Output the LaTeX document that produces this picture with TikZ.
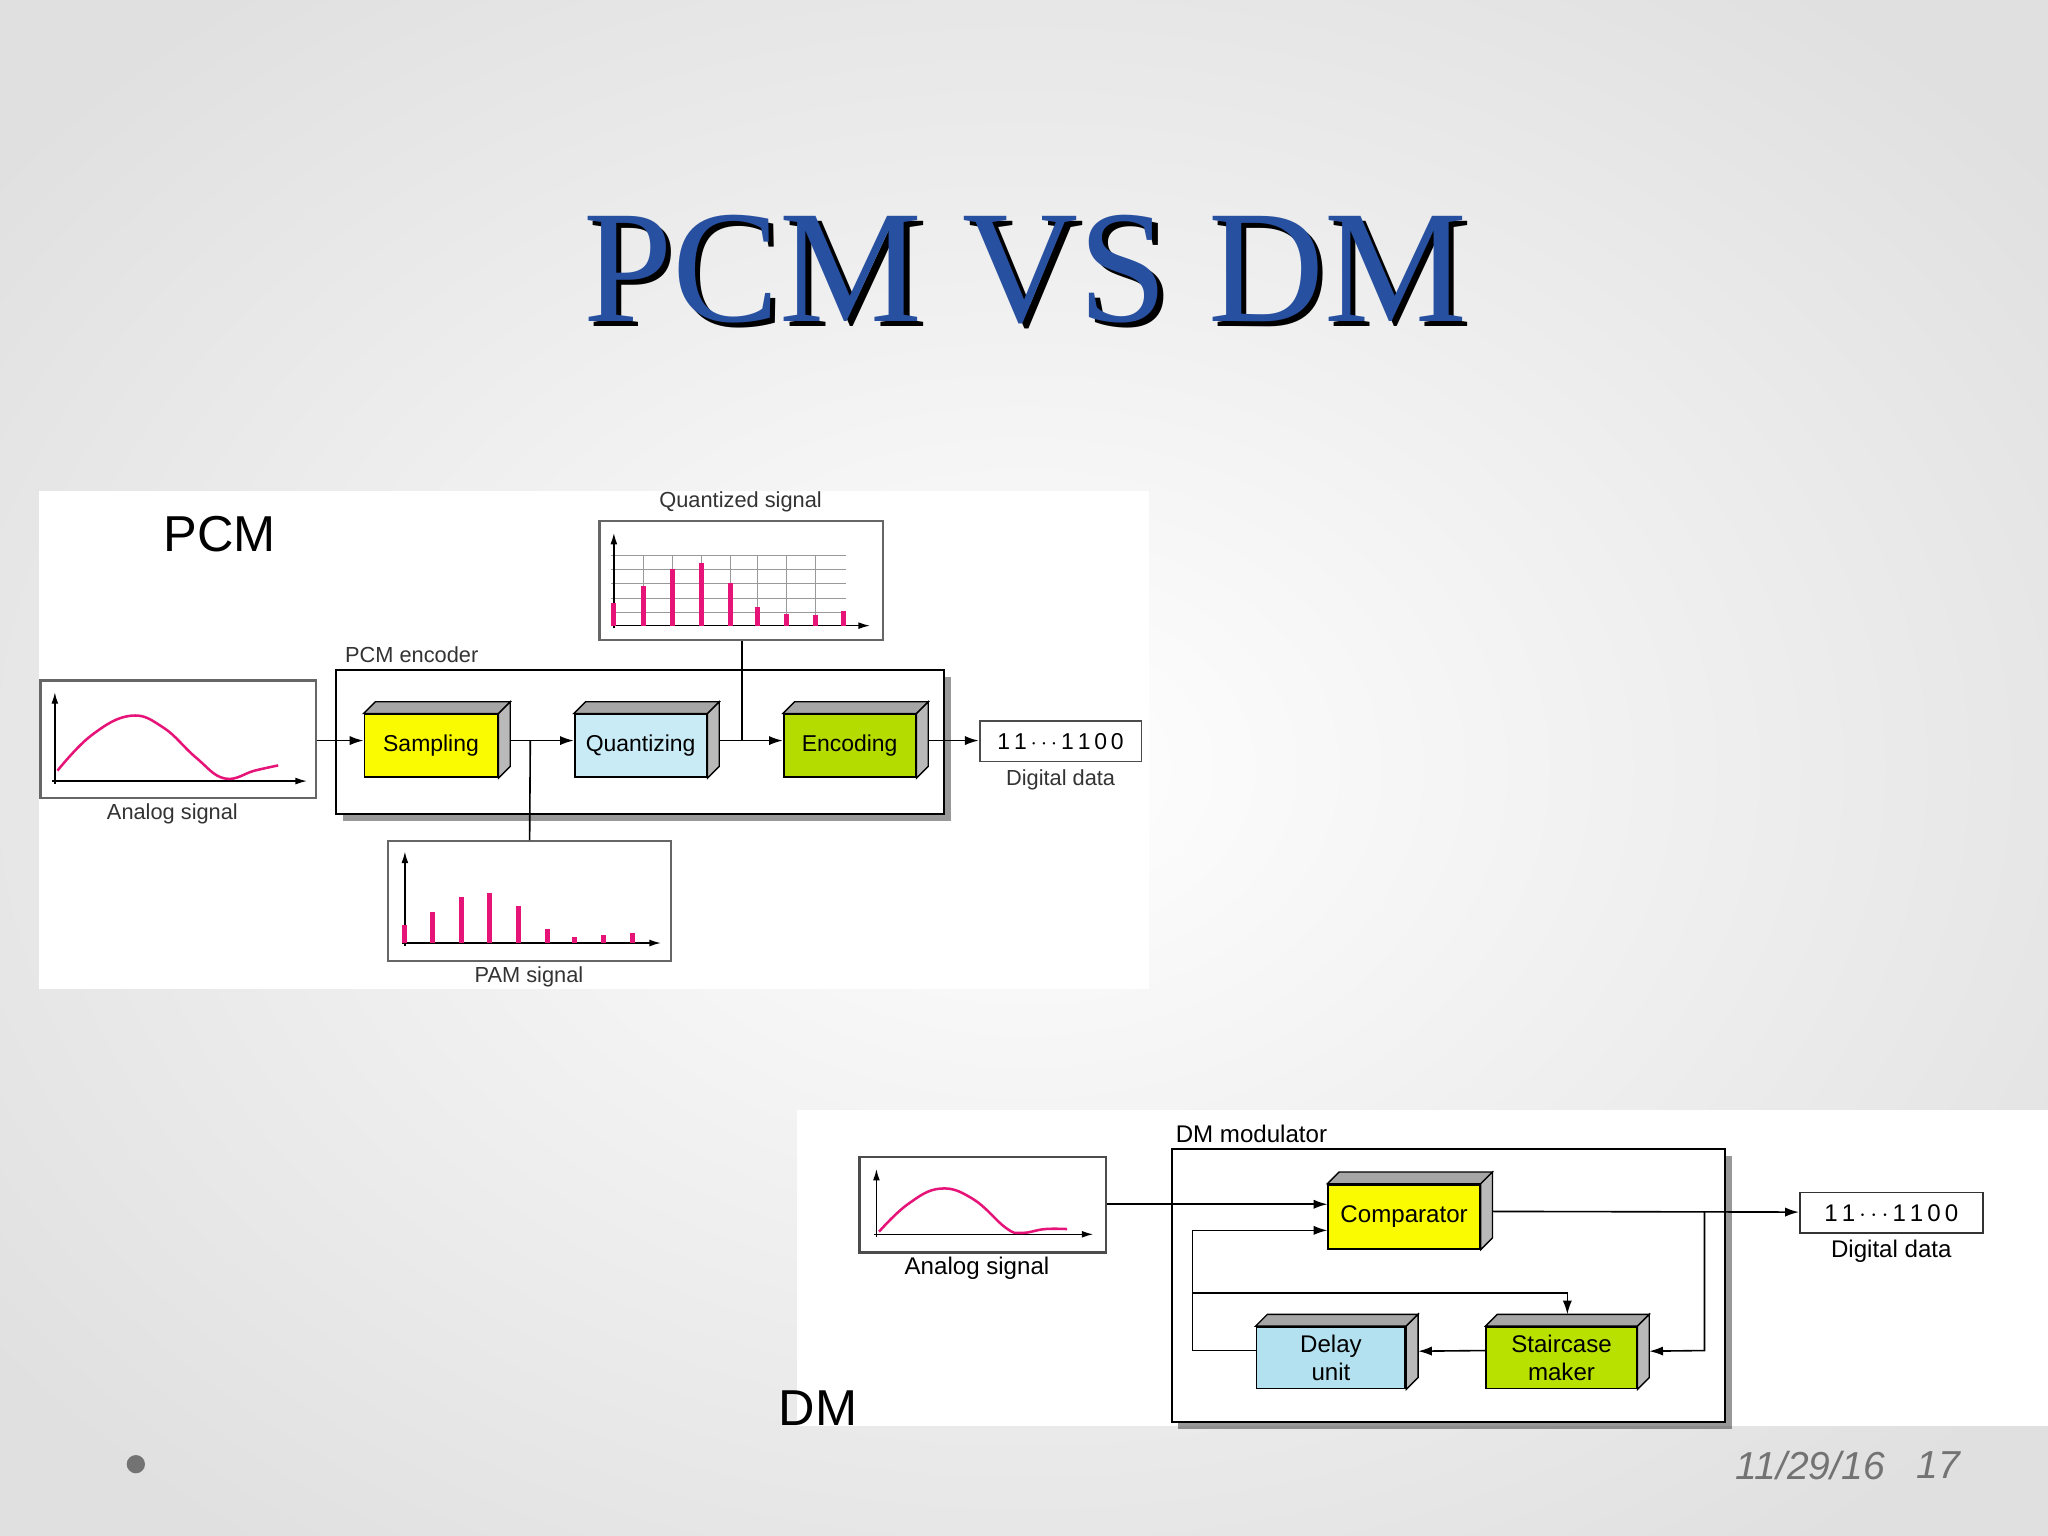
\documentclass[tikz,border=0pt]{standalone}
\usepackage{fontspec}
\setmainfont{Liberation Sans}
\newfontfamily\titlefont{Liberation Serif}
\usetikzlibrary{arrows.meta,shadows,calc}
\definecolor{pinkc}{RGB}{230,20,120}
\definecolor{titleblue}{RGB}{40,80,160}
\definecolor{sampy}{RGB}{250,250,0}
\definecolor{quantb}{RGB}{200,235,245}
\definecolor{encg}{RGB}{180,220,0}
\definecolor{compy}{RGB}{250,250,0}
\definecolor{delayb}{RGB}{180,225,240}
\definecolor{stairg}{RGB}{185,225,0}
\tikzset{
  blk/.style={draw=black, line width=0.8pt, align=center, inner sep=0pt},
  sig/.style={draw=black!60, line width=1pt, fill=white},
  frame/.style={draw=black, line width=0.8pt},
  conn/.style={line width=0.7pt, -{Latex[length=6pt,width=4pt]}},
  wire/.style={line width=0.7pt},
  curve/.style={pinkc, line width=1.1pt},
  bar/.style={pinkc, line width=2.2pt},
  axis/.style={line width=0.6pt, -{Latex[length=5pt,width=3pt]}},
  small/.style={font=\fontsize{9.5}{11}\selectfont, text=black!80},
  dmlab/.style={font=\fontsize{10.5}{12.5}\selectfont},
  titlef/.style={font=\titlefont\fontsize{70}{74}\selectfont},
}
\newcommand\tdfaces[2]{%
  \fill[gray!70, draw=black, line width=0.6pt] (#1.north west) -- ++(#2,-#2) -- ($(#1.north east)+(#2,-#2)$) -- (#1.north east) -- cycle;
  \fill[gray!55, draw=black, line width=0.6pt] (#1.north east) -- ++(#2,-#2) -- ($(#1.south east)+(#2,-#2)$) -- (#1.south east) -- cycle;}
\begin{document}
\begin{tikzpicture}[x=0.02cm,y=-0.02cm]
\useasboundingbox (0,0) rectangle (1568,1176);
\shade[inner color=white, outer color=black!12] (-200,-150) rectangle (1768,1326);
% title
\node[titlef, text=black] (titleshadow) at (789,210) {PCM VS DM};
\node[titlef, text=titleblue] (title) at (785,206) {PCM VS DM};
% panels
\fill[white] (30,376) rectangle (880,757);
\fill[white] (610,850) rectangle (1568,1092);
\node[font=\fontsize{22}{24}\selectfont, anchor=west] (pcmlab) at (119,409) {PCM};
\node[font=\fontsize{22}{24}\selectfont, anchor=west] (dmlab) at (590,1078) {DM};
% ===== PCM =====
\draw[frame, fill=white, drop shadow={shadow xshift=3pt, shadow yshift=-3pt, fill=black!80}] (257,513) rectangle (723,623);
\node[small, anchor=west] (enclab) at (258,501) {PCM encoder};
\node[sig, minimum width=4.22cm, minimum height=1.8cm] (analog) at (136.5,566) {};
\node[small] (analoglab) at (132,623) {Analog signal};
\draw[axis] (42,600) -- (42,530);
\draw[axis] (40,598) -- (235,598);
\draw[curve] plot[smooth, tension=0.7] coordinates {(44,590) (70,563) (100,548) (125,557) (150,580) (172,596) (195,590) (213,586)};
\node[blk, fill=sampy, minimum width=2.04cm, minimum height=0.96cm, font=\fontsize{10}{12}\selectfont] (samp) at (330,571) {Sampling};
\node[blk, fill=quantb, minimum width=2.02cm, minimum height=0.96cm, font=\fontsize{10}{12}\selectfont] (quant) at (490.5,571) {Quantizing};
\node[blk, fill=encg, minimum width=2.02cm, minimum height=0.96cm, font=\fontsize{10}{12}\selectfont] (enc) at (650.5,571) {Encoding};
\tdfaces{samp}{9}\tdfaces{quant}{9}\tdfaces{enc}{9}
\node[draw=black!70, line width=0.8pt, minimum width=2.48cm, minimum height=0.62cm, font=\fontsize{10}{12}\selectfont] (dd1) at (812,567.5) {1\,1\,$\cdots$\,1\,1\,0\,0};
\node[small] (ddlab1) at (812,597) {Digital data};
\node[sig, minimum width=4.34cm, minimum height=1.82cm] (qsig) at (567.5,444.5) {};
\node[small] (qlab) at (567,384) {Quantized signal};
\foreach \yy in {425,436,447,458,469} \draw[black!40, line width=0.4pt] (468,\yy) -- (648,\yy);
\foreach \xx in {493,515,537,559,580,602,624} \draw[black!40, line width=0.4pt] (\xx,425) -- (\xx,479);
\draw[axis] (470,481) -- (470,408);
\draw[axis] (468,479) -- (666,479);
\foreach \xx/\yy in {470/462,493/449,515/436,537/431,559/446,580/465,602/470,624/471,646/468} \draw[bar] (\xx,479) -- (\xx,\yy);
\node[sig, minimum width=4.34cm, minimum height=1.84cm] (pam) at (405.5,690) {};
\node[small] (pamlab) at (405,748) {PAM signal};
\draw[axis] (310,724) -- (310,652);
\draw[axis] (308,722) -- (506,722);
\foreach \xx/\yy in {310/708,331/698,353/687,375/684,397/694,419/711,440/717,462/716,484/714} \draw[bar] (\xx,722) -- (\xx,\yy);
\coordinate (j1) at (406,567);
\coordinate (j2) at (568,567);
\draw[conn] (analog.east |- 0,567) -- (samp.west |- 0,567);
\draw[conn] ($(samp.east)+(9,-4)$) -- (quant.west |- 0,567);
\draw[conn] ($(quant.east)+(9,-4)$) -- (enc.west |- 0,567);
\draw[conn] ($(enc.east)+(9,-4)$) -- (dd1.west |- 0,567);
\draw[wire] (j1) -- (pam.north);
\draw[wire] (j2) -- (qsig.south -| j2);
% ===== DM =====
\draw[frame, fill=white, drop shadow={shadow xshift=3pt, shadow yshift=-3pt, fill=black!80}] (897,880) rectangle (1321,1089);
\node[dmlab, anchor=west] (modlab) at (894,868) {DM modulator};
\node[sig, draw=black!70, minimum width=3.78cm, minimum height=1.46cm] (analog2) at (752.5,922.5) {};
\node[dmlab] (analoglab2) at (748,971) {Analog signal};
\draw[axis] (671,947) -- (671,895);
\draw[axis] (669,945) -- (837,945);
\draw[curve] plot[smooth, tension=0.7] coordinates {(673,943) (695,922) (720,910) (745,918) (770,940) (782,944) (800,941) (817,941)};
\node[blk, fill=compy, minimum width=2.32cm, minimum height=0.98cm, dmlab] (comp) at (1075,931.5) {Comparator};
\node[blk, fill=delayb, minimum width=2.28cm, minimum height=0.94cm, dmlab] (delay) at (1019,1039.5) {Delay\\unit};
\node[blk, fill=stairg, minimum width=2.3cm, minimum height=0.94cm, dmlab] (stair) at (1195.5,1039.5) {Staircase\\maker};
\tdfaces{comp}{9}\tdfaces{delay}{9}\tdfaces{stair}{9}
\node[draw=black!80, line width=0.8pt, minimum width=2.8cm, minimum height=0.62cm, dmlab] (dd2) at (1448,928.5) {1\,1\,$\cdots$\,1\,1\,0\,0};
\node[dmlab] (ddlab2) at (1448,958) {Digital data};
\coordinate (k1) at (1305,928);
\coordinate (k2) at (913,990);
\draw[conn] (analog2.east |- 0,922) -- (comp.west |- 0,922);
\draw[conn] ($(comp.east)+(9,-4)$) -- (dd2.west |- 0,928);
\draw[conn] (k1) -- (1305,1034) -- ($(stair.east)+(9,-5)$);
\draw[conn] (stair.west |- 0,1034) -- ($(delay.east)+(9,-5)$);
\draw[conn] (delay.west |- 0,1034) -- (913,1034) -- (913,942) -- (comp.west |- 0,942);
\draw[conn] (k2) -- (1200,990) -- ($(stair.north -| 1200,0)+(0,-9)$);
% footer
\fill[black!55] (104,1121) circle (7);
\node[font=\itshape\fontsize{17}{19}\selectfont, text=black!55] (date) at (1386,1122) {11/29/16};
\node[font=\itshape\fontsize{17}{19}\selectfont, text=black!55] (page) at (1484,1122) {17};
\end{tikzpicture}
\end{document}
